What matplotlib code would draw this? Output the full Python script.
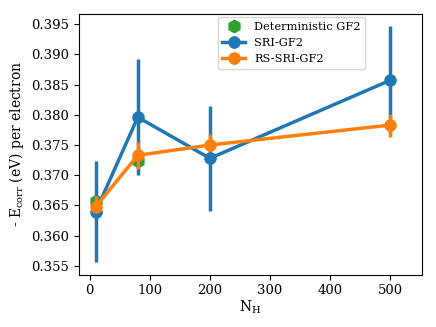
import matplotlib
matplotlib.use("Agg")
import matplotlib.pyplot as plt

plt.rcParams['font.family'] = 'DejaVu Serif'
plt.rcParams['mathtext.fontset'] = 'dejavuserif'

# data
nh = [10, 80, 200, 500]
det_x = [10, 80]
det_y = [0.3657, 0.3724]
sri_y = [0.3640, 0.3796, 0.3728, 0.3857]
sri_err = [0.0083, 0.0096, 0.0087, 0.0089]
rs_y = [0.3648, 0.3733, 0.3750, 0.3783]
rs_err = [0.0018, 0.0022, 0.0018, 0.0019]

fig = plt.figure(figsize=(4.36, 3.27), dpi=100)
ax = fig.add_axes([0.181, 0.16, 0.787, 0.797])

h1, = ax.plot(det_x, det_y, 'h', color='tab:green', markersize=9, linestyle='none')
h2 = ax.errorbar(nh, sri_y, yerr=sri_err, color='tab:blue', marker='o',
                 markersize=8, linewidth=2.5, elinewidth=2.5)
h3 = ax.errorbar(nh, rs_y, yerr=rs_err, color='tab:orange', marker='o',
                 markersize=8, linewidth=2.5, elinewidth=2.5)

ax.set_xlim(-18, 553)
ax.set_ylim(0.35356, 0.39665)
ax.set_yticks([0.355, 0.360, 0.365, 0.370, 0.375, 0.380, 0.385, 0.390, 0.395])
ax.set_xticks([0, 100, 200, 300, 400, 500])
ax.tick_params(labelsize=9.5)
ax.set_xlabel(r'N$_{\rm H}$', fontsize=10, labelpad=1)
ax.set_ylabel(r'- E$_{\rm corr}$ (eV) per electron', fontsize=10)
ax.legend([h1, h2, h3], ['Deterministic GF2', 'SRI-GF2', 'RS-SRI-GF2'],
          loc='upper left', bbox_to_anchor=(0.405, 0.988), borderaxespad=0,
          fontsize=8.2, labelspacing=0.55)

fig.savefig('out.png', dpi=100)
